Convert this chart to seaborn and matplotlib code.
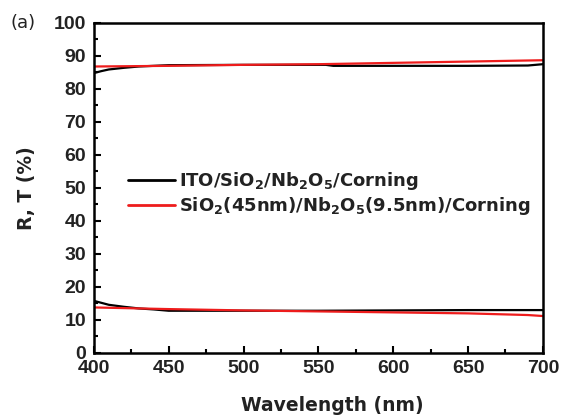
import numpy as np
import pandas as pd
import matplotlib
matplotlib.use("Agg")
import matplotlib.pyplot as plt
import seaborn as sns
from matplotlib.ticker import MultipleLocator

sns.set_theme(style="ticks")
plt.rcParams['font.family'] = ['DejaVu Sans']
plt.rcParams['mathtext.fontset'] = 'custom'
plt.rcParams['mathtext.rm'] = 'DejaVu Sans:bold'
plt.rcParams['mathtext.it'] = 'DejaVu Sans:bold'
plt.rcParams['mathtext.bf'] = 'DejaVu Sans:bold'

# Transmittance (upper curves)
wl_black_T = [400, 405, 410, 420, 430, 440, 450, 500, 555, 560, 600, 650, 690, 700]
black_T = [84.8, 85.4, 85.9, 86.4, 86.8, 87.0, 87.2, 87.3, 87.3, 87.0, 87.0, 87.0, 87.1, 87.5]
wl_red_T = [400, 450, 500, 550, 600, 650, 700]
red_T = [86.8, 87.0, 87.3, 87.5, 87.9, 88.3, 88.7]

# Reflectance (lower curves)
wl_black_R = [400, 405, 410, 420, 430, 440, 450, 500, 550, 600, 650, 700]
black_R = [15.8, 15.2, 14.6, 14.0, 13.5, 13.2, 12.8, 12.8, 12.8, 12.9, 13.0, 13.0]
wl_red_R = [400, 450, 500, 550, 600, 650, 690, 700]
red_R = [13.8, 13.3, 12.9, 12.6, 12.3, 12.0, 11.5, 11.2]

label_black = r'ITO/SiO$_2$/Nb$_2$O$_5$/Corning'
label_red = r'SiO$_2$(45nm)/Nb$_2$O$_5$(9.5nm)/Corning'

frames = [
    pd.DataFrame({'wl': wl_black_T, 'val': black_T, 'sample': label_black, 'kind': 'T'}),
    pd.DataFrame({'wl': wl_red_T, 'val': red_T, 'sample': label_red, 'kind': 'T'}),
    pd.DataFrame({'wl': wl_black_R, 'val': black_R, 'sample': label_black, 'kind': 'R'}),
    pd.DataFrame({'wl': wl_red_R, 'val': red_R, 'sample': label_red, 'kind': 'R'}),
]
df = pd.concat(frames, ignore_index=True)

fig = plt.figure(figsize=(5.62, 4.17), dpi=100)
ax = fig.add_axes([0.167, 0.1535, 0.799, 0.7915])

palette = {label_black: '#000000', label_red: '#ee1c1c'}
sns.lineplot(data=df, x='wl', y='val', hue='sample', units='kind', estimator=None,
             palette=palette, linewidth=1.6, ax=ax, legend=True, sort=True)

ax.set_xlim(400, 700)
ax.set_ylim(0, 100)
ax.xaxis.set_major_locator(MultipleLocator(50))
ax.xaxis.set_minor_locator(MultipleLocator(25))
ax.yaxis.set_major_locator(MultipleLocator(10))
ax.yaxis.set_minor_locator(MultipleLocator(5))
ax.tick_params(which='both', direction='in', top=False, right=False, width=1.5, colors='black')
ax.tick_params(which='major', length=5)
ax.tick_params(which='minor', length=3)
ax.tick_params(axis='y', pad=5.5)
ax.tick_params(axis='x', pad=5)
for lab in ax.get_xticklabels() + ax.get_yticklabels():
    lab.set_fontweight('bold')
    lab.set_fontfamily('Liberation Sans')
    lab.set_fontsize(14)
    lab.set_color('#222222')
for sp in ax.spines.values():
    sp.set_linewidth(1.8)
    sp.set_color('black')

ax.set_xlabel('Wavelength (nm)', fontsize=13.5, fontweight='bold', color='#222222')
ax.xaxis.set_label_coords(0.53, -0.13)
ax.set_ylabel('R, T (%)', fontsize=13.5, fontweight='bold', color='#222222')
ax.yaxis.set_label_coords(-0.128, 0.5)

leg = ax.legend(loc='upper left', bbox_to_anchor=(0.076, 0.553), frameon=False,
                prop={'size': 13, 'weight': 'bold'}, handlelength=2.6,
                handletextpad=0.25, labelspacing=0.15, borderaxespad=0, borderpad=0)
for line in leg.get_lines():
    line.set_linewidth(2.0)
for t in leg.get_texts():
    t.set_color('#222222')

fig.text(0.018, 0.945, '(a)', fontsize=13, va='center', ha='left', color='#222222')

fig.savefig('out.png', dpi=100)
